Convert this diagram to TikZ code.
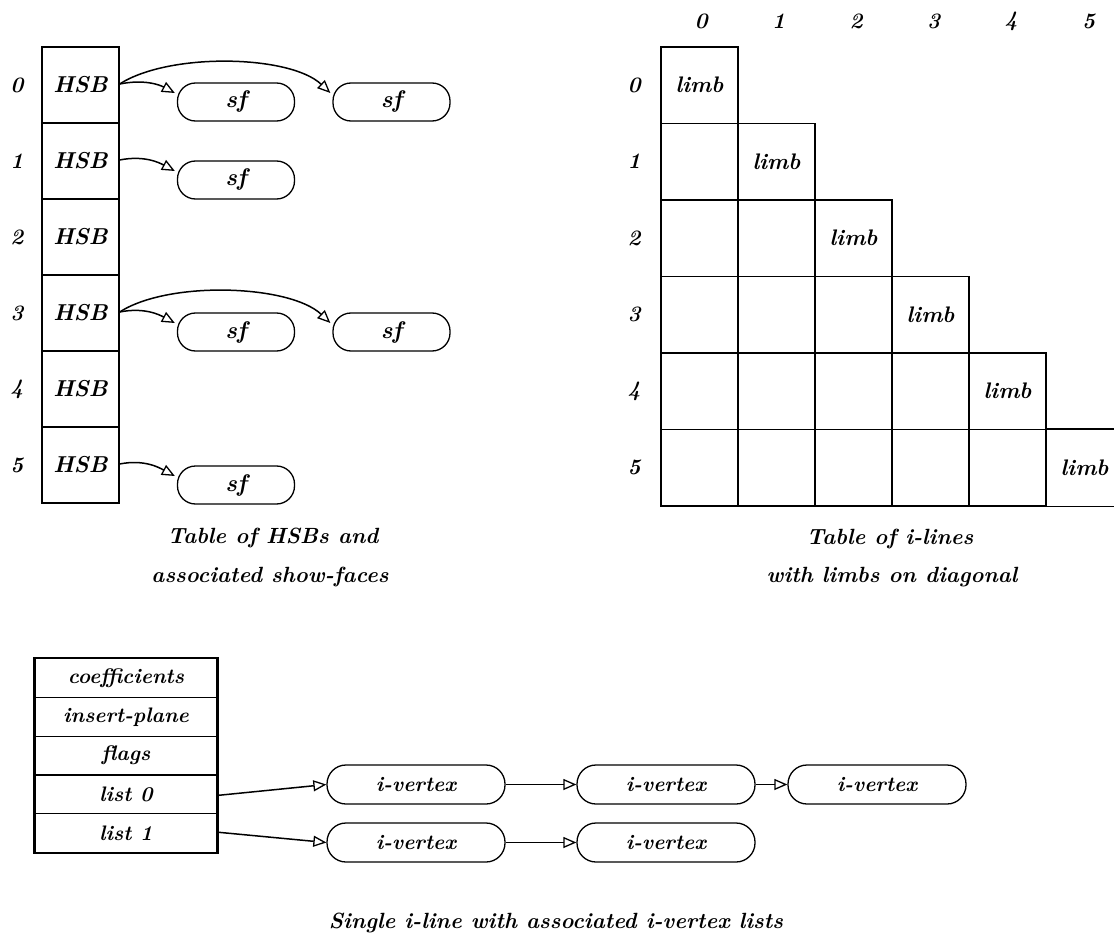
\documentclass[tikz,border=0pt]{standalone}
\usepackage{fontspec}
\usetikzlibrary{arrows.meta}
\newcommand\bif[1]{\fontsize{#1}{#1}\selectfont\bfseries\itshape}
\begin{document}
\begin{tikzpicture}[x=1pt,y=-1pt,
  line width=1.3pt,
  arr/.style={-{Triangle[open,length=13pt,width=11pt,line width=1.3pt]}, line width=1.5pt},
  hsb/.style={draw, minimum width=77pt, minimum height=76pt, inner sep=0pt, font=\bif{23}},
  sfbox/.style={draw, rounded corners=18pt, minimum width=117pt, minimum height=38pt, inner sep=0pt, font=\bif{24}},
  lbl/.style={font=\bif{22}, inner sep=0pt},
  cell/.style={draw, minimum width=77pt, minimum height=76.5pt, inner sep=0pt},
  ecell/.style={minimum width=77pt, minimum height=76.5pt, inner sep=0pt, font=\bif{22.5}},
  limbtxt/.style={font=\bif{22.5}, inner sep=0pt},
  fld/.style={draw, minimum width=182pt, minimum height=38.8pt, inner sep=0pt, font=\bif{21}},
  vtx/.style={draw, rounded corners=19pt, minimum width=178pt, minimum height=39pt, inner sep=0pt, font=\bif{21}},
  captxt/.style={font=\bif{22}, inner sep=0pt, anchor=base}
]
\useasboundingbox (0,0) rectangle (1114,936);
% ---------- left table ----------
\foreach \i in {0,...,5}{
  \node[hsb] (h\i) at (80.5,{85+76*\i}) {HSB};
  \node[lbl] (r\i) at (17,{85+76*\i}) {\i};
}
\node[sfbox] (s0a) at (236,102) {sf};
\node[sfbox] (s0b) at (391.5,102) {sf};
\node[sfbox] (s1a) at (236,180) {sf};
\node[sfbox] (s3a) at (236,332) {sf};
\node[sfbox] (s3b) at (391.5,332) {sf};
\node[sfbox] (s5a) at (236,485) {sf};
\coordinate (t0a) at ([xshift=-2pt,yshift=9pt]s0a.west);
\coordinate (t0b) at ([xshift=-2pt,yshift=9pt]s0b.west);
\coordinate (t1a) at ([xshift=-2pt,yshift=9pt]s1a.west);
\coordinate (t3a) at ([xshift=-2pt,yshift=9pt]s3a.west);
\coordinate (t3b) at ([xshift=-2pt,yshift=9pt]s3b.west);
\coordinate (t5a) at ([xshift=-2pt,yshift=9pt]s5a.west);
\foreach \r/\t in {0/0a,1/1a,3/3a,5/5a}{
  \draw[arr] ([yshift=1pt]h\r.east) .. controls +(25,-5) and +(-15,-8) .. (t\t);
}
\foreach \r/\t in {0/0b,3/3b}{
  \draw[arr] ([yshift=1pt]h\r.east) .. controls +(50,-32) and +(-40,-38) .. (t\t);
}
\node[captxt] (capL) at (273,543) {Table of HSBs and};
\node[captxt] (capL2) at (270,582) {associated show-faces};
% ---------- right table ----------
\foreach \j in {0,...,5}{
  \node[lbl] (c\j) at ({701+77.5*\j},21) {\j};
  \node[lbl] (q\j) at (634,{85+76.5*\j}) {\j};
}
\foreach \i in {0,...,5}{
  \foreach \j in {0,...,\i}{
    \ifnum\i=5 \ifnum\j=5 \else
      \node[cell] (g\i\j) at ({699.5+77*\j},{85.25+76.5*\i}) {};
    \fi\else
      \node[cell] (g\i\j) at ({699.5+77*\j},{85.25+76.5*\i}) {};
    \fi
  }
}
\foreach \i in {0,...,4}{
  \node[limbtxt] at (g\i\i) {limb};
}
\node[ecell] (g55) at ({699.5+77*5},{85.25+76.5*5}) {limb};
\draw (g55.north west) -- (g55.north west -| 1114,0);
\draw (g55.south west) -- (g55.south west -| 1114,0);
\node[captxt] (capR) at (890,544) {Table of i-lines};
\node[captxt] (capR2) at (892,582) {with limbs on diagonal};
% ---------- bottom ----------
\node[fld] (f0) at (126,678) {coefficients};
\node[fld] (f1) at (126,716.8) {insert-plane};
\node[fld] (f2) at (126,755.6) {flags};
\node[fld] (f3) at (126,794.4) {list 0};
\node[fld] (f4) at (126,833.2) {list 1};
\draw[line width=2.4pt] (f0.north west) rectangle (f4.south east);
\node[vtx] (v1) at (416,784.5) {i-vertex};
\node[vtx] (v2) at (666,784.5) {i-vertex};
\node[vtx] (v3) at (877,784.5) {i-vertex};
\node[vtx] (w1) at (416,842.5) {i-vertex};
\node[vtx] (w2) at (666,842.5) {i-vertex};
\draw[arr] ([yshift=-1pt]f3.east) -- (v1.west);
\draw[arr] ([yshift=1pt]f4.east) -- (w1.west);
\draw[arr] (v1.east) -- (v2.west);
\draw[arr] (v2.east) -- (v3.west);
\draw[arr] (w1.east) -- (w2.west);
\node[captxt] (capB) at (556,928) {Single i-line with associated i-vertex lists};
\end{tikzpicture}
\end{document}
